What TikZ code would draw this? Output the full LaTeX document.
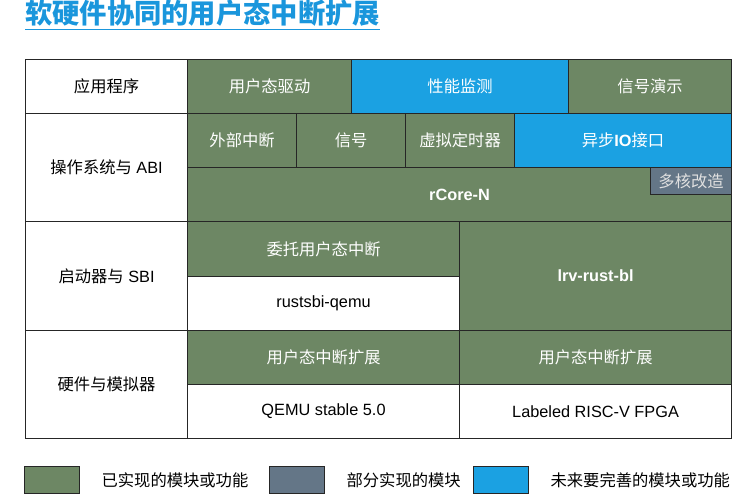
\documentclass[tikz,border=0pt]{standalone}
\usepackage{fontspec}
\setmainfont{Liberation Sans}
\newfontfamily\cjk{Noto Sans CJK SC}
\usetikzlibrary{positioning}

\definecolor{donegreen}{HTML}{6D8764}
\definecolor{partgray}{HTML}{647687}
\definecolor{todoblue}{HTML}{1BA1E2}
\definecolor{titleblue}{HTML}{1A96DC}

\tikzset{
  cell/.style={draw=black!85, line width=1.1pt, inner sep=0pt, anchor=north west,
    font=\fontsize{16.3}{19}\selectfont},
  done/.style={cell, fill=donegreen, text=white},
  part/.style={cell, fill=partgray, text=white!88!black},
  todo/.style={cell, fill=todoblue, text=white},
  plain/.style={cell, fill=white, text=black},
  keybox/.style={draw=black!85, line width=1.1pt, minimum width=55pt, minimum height=27pt, inner sep=0pt},
  keytext/.style={font=\cjk\fontsize{16.3}{19}\selectfont, right=18pt of #1},
}

\begin{document}
\begin{tikzpicture}[x=1pt, y=-1pt]
  \useasboundingbox (0,0) rectangle (755,499);
  % title
  \node[font=\cjk\bfseries\fontsize{27.3}{30}\selectfont, text=titleblue, anchor=west, inner sep=0pt] (title) at (25,13) {软硬件协同的用户态中断扩展};
  \draw[titleblue, line width=1.6pt] ([yshift=-3pt]title.south west) -- ([yshift=-3pt]title.south east);
  % layers
  \foreach \x/\y/\w/\h/\s/\t [count=\i] in {
      25/59/162/54/plain/{\cjk 应用程序},
      187/59/164/54/done/{\cjk 用户态驱动},
      351/59/217/54/todo/{\cjk 性能监测},
      568/59/163/54/done/{\cjk 信号演示},
      25/113/162/108/plain/{{\cjk 操作系统与} ABI},
      187/113/109/54/done/{\cjk 外部中断},
      296/113/109/54/done/{\cjk 信号},
      405/113/109/54/done/{\cjk 虚拟定时器},
      514/113/217/54/todo/{{\cjk 异步}\textbf{IO}{\cjk 接口}},
      187/167/544/54/done/{\textbf{rCore-N}},
      25/221/162/109/plain/{{\cjk 启动器与} SBI},
      187/221/272/55/done/{\cjk 委托用户态中断},
      187/276/272/54/plain/{rustsbi-qemu},
      459/221/272/109/done/{\textbf{lrv-rust-bl}},
      25/330/162/108/plain/{\cjk 硬件与模拟器},
      187/330/272/54/done/{\cjk 用户态中断扩展},
      459/330/272/54/done/{\cjk 用户态中断扩展},
      187/384/272/54/plain/{QEMU stable 5.0},
      459/384/272/54/plain/{Labeled RISC-V FPGA}} {
    \node[\s, minimum width=\w pt, minimum height=\h pt] (layer\i) at (\x,\y) {\t};
  }
  \node[part, minimum width=81pt, minimum height=27pt] (multicore) at (650,167) {\cjk 多核改造};
  % legend
  \node[keybox, fill=donegreen, anchor=north west] (keydone) at (24,466) {};
  \node[keytext=keydone] (keydonetext) {已实现的模块或功能};
  \node[keybox, fill=partgray, anchor=north west] (keypart) at (269,466) {};
  \node[keytext=keypart] (keyparttext) {部分实现的模块};
  \node[keybox, fill=todoblue, anchor=north west] (keytodo) at (473,466) {};
  \node[keytext=keytodo] (keytodotext) {未来要完善的模块或功能};
\end{tikzpicture}
\end{document}
